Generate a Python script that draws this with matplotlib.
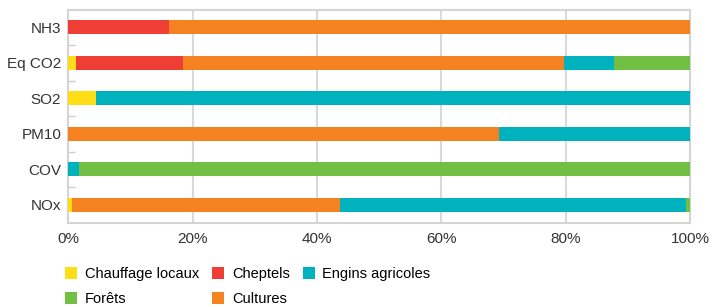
import numpy as np
import matplotlib.pyplot as plt
from matplotlib.ticker import PercentFormatter

plt.rcParams['font.family'] = ['Liberation Sans', 'DejaVu Sans']

polluants = ['NH3', 'Eq CO2', 'SO2', 'PM10', 'COV', 'NOx']

# parts en % par source
chauffage = [0.0, 1.2, 4.5, 0.0, 0.0, 0.6]
cheptels = [16.2, 17.3, 0.0, 0.0, 0.0, 0.0]
cultures = [83.8, 61.3, 0.0, 69.3, 0.0, 43.1]
engins = [0.0, 7.9, 95.5, 30.7, 1.7, 55.7]
forets = [0.0, 12.3, 0.0, 0.0, 98.3, 0.6]

series = [
    ('Chauffage locaux', chauffage, '#FFDD17'),
    ('Cheptels', cheptels, '#EF3E36'),
    ('Cultures', cultures, '#F58220'),
    ('Engins agricoles', engins, '#00B2BE'),
    ('Forêts', forets, '#72BF44'),
]

fig = plt.figure(figsize=(7.15, 3.07), dpi=100)
ax = fig.add_axes([68.3 / 715, 1 - 222.5 / 307, (690 - 68.3) / 715, (222.5 - 9.5) / 307])

y = np.arange(len(polluants))
left = np.zeros(len(polluants))
handles = {}
for name, vals, col in series:
    vals = np.array(vals)
    b = ax.barh(y, vals, left=left, height=0.4, color=col, label=name, zorder=3)
    handles[name] = b
    left += vals

ax.set_xlim(0, 100)
ax.set_ylim(len(polluants) - 0.5, -0.5)
ax.set_yticks(y)
ax.set_yticklabels(polluants)
ax.set_yticks(np.arange(0.5, len(polluants) - 1, 1), minor=True)
ax.tick_params(axis='y', which='major', length=0, pad=5, labelsize=11, colors='#333333')
ax.tick_params(axis='y', which='minor', length=5, direction='in', color='#cccccc', width=1)
ax.set_xticks(np.arange(0, 101, 20))
ax.xaxis.set_major_formatter(PercentFormatter(decimals=0))
ax.tick_params(axis='x', length=0, pad=7, labelsize=11, colors='#333333')
ax.grid(axis='x', color='#d9d9d9', linewidth=1.5, zorder=0)
for s in ax.spines.values():
    s.set_color('#d4d4d4')
    s.set_linewidth(1.5)

order = ['Chauffage locaux', 'Forêts', 'Cheptels', 'Cultures', 'Engins agricoles']
fig.legend([handles[n] for n in order], order, ncol=3, loc='upper left',
           bbox_to_anchor=(65 / 715, 1 - 267 / 307), frameon=False, fontsize=10.5,
           handlelength=0.85, handleheight=0.85, handletextpad=0.5,
           columnspacing=0.9, labelspacing=0.75, borderaxespad=0, borderpad=0)

fig.savefig('out.png', dpi=100)
